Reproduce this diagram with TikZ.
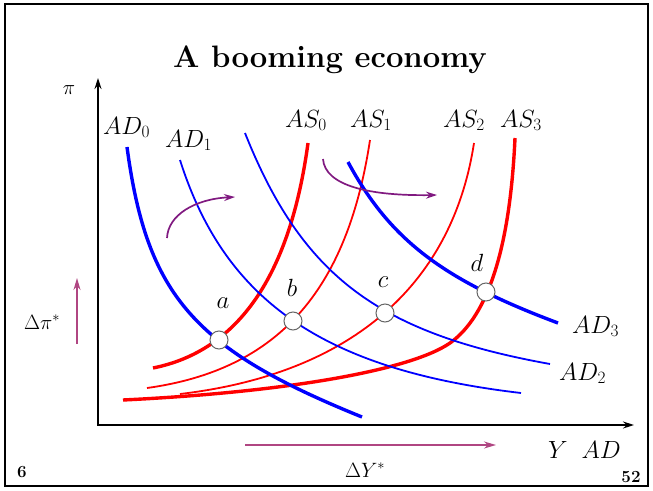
\documentclass[tikz,border=0pt]{standalone}
\usetikzlibrary{arrows.meta}
\definecolor{adblue}{RGB}{0,0,255}
\definecolor{asred}{RGB}{255,0,0}
\definecolor{shiftpurple}{RGB}{128,25,128}
\definecolor{mauve}{RGB}{176,70,130}
\begin{document}
\begin{tikzpicture}[x=1pt,y=-1pt,
  frameline/.style={line width=2.6pt,black},
  axisline/.style={line width=1.4pt,black,{Stealth[length=11pt,width=7pt]}-{Stealth[length=11pt,width=7pt]}},
  adthick/.style={adblue,line width=3.4pt},
  adthin/.style={adblue,line width=1.8pt},
  asthick/.style={asred,line width=3.4pt},
  asthin/.style={asred,line width=1.8pt},
  shiftarrow/.style={shiftpurple,line width=1.7pt,-{Stealth[length=11pt,width=7pt]}},
  deltaarrow/.style={mauve,line width=1.7pt,-{Stealth[length=12pt,width=7pt]}},
  eqpt/.style={circle,minimum size=18pt,inner sep=0pt,fill=white,draw=black!60,line width=1pt},
  curvelabel/.style={inner sep=0pt,anchor=base west,font=\fontsize{24}{28}\selectfont},
  ptlabel/.style={inner sep=0pt,font=\fontsize{24}{28}\selectfont},
  axislabel/.style={inner sep=0pt,font=\fontsize{22}{26}\selectfont},
  pagenum/.style={inner sep=0pt,font=\fontsize{17}{20}\selectfont\bfseries}
]
\useasboundingbox (0,0) rectangle (653,490);
\draw[frameline] (5,4) rectangle (648,486);

% title
\node[inner sep=0pt,font=\fontsize{31}{35}\selectfont\bfseries] (title) at (330,60) {A booming economy};

% axes
\coordinate (O) at (98,425);
\coordinate (ytip) at (98,78);
\coordinate (xtip) at (634,425);
\draw[axisline] (ytip) -- (O) -- (xtip);
\node[axislabel] (pi) at (69,90) {$\pi$};
\node[curvelabel] (YAD) at (548,458) {$Y\;\;AD$};

% AS curves
\draw[asthick] (308,143) .. controls (290,276) and (238,351) .. (153,368);
\draw[asthin] (370,140) .. controls (347,292) and (277,370) .. (147,388);
\draw[asthin] (474,143) .. controls (452,286) and (350,374) .. (180,394);
\draw[asthick] (515,138) .. controls (510,248) and (488,316) .. (450,343)
                         .. controls (411,370) and (288,392) .. (123,400);

% AD curves
\draw[adthick] (127,147) .. controls (147,296) and (194,349) .. (362,417);
\draw[adthin] (180,160) .. controls (225,302) and (325,370) .. (521,393);
\draw[adthin] (245,133) .. controls (302,276) and (378,333) .. (550,364);
\draw[adthick] (348,162) .. controls (390,240) and (443,280) .. (558,323);

% curve labels
\node[curvelabel] (lAD0) at (103,134) {$AD_0$};
\node[curvelabel] (lAD1) at (165,147) {$AD_1$};
\node[curvelabel] (lAS0) at (285,127) {$AS_0$};
\node[curvelabel] (lAS1) at (350,127) {$AS_1$};
\node[curvelabel] (lAS2) at (443,127) {$AS_2$};
\node[curvelabel] (lAS3) at (500,127) {$AS_3$};
\node[curvelabel] (lAD3) at (572,333) {$AD_3$};
\node[curvelabel] (lAD2) at (559,380) {$AD_2$};

% equilibrium points
\node[eqpt] (a) at (219,340) {};
\node[eqpt] (b) at (293,321) {};
\node[eqpt] (c) at (385,313) {};
\node[eqpt] (d) at (486,292) {};
\node[ptlabel] (la) at (223,303) {$a$};
\node[ptlabel] (lb) at (292,288) {$b$};
\node[ptlabel] (lc) at (383,282) {$c$};
\node[ptlabel] (ld) at (477,263) {$d$};

% shift arrows
\coordinate (s1a) at (167,238);
\coordinate (s1b) at (235,197);
\draw[shiftarrow] (s1a) .. controls (168,215) and (195,199) .. (s1b);
\coordinate (s2a) at (323,159);
\coordinate (s2b) at (437,195);
\draw[shiftarrow] (s2a) .. controls (325,186) and (370,196) .. (s2b);

% delta arrows
\coordinate (v0) at (77,344);
\coordinate (v1) at (77,278);
\draw[deltaarrow] (v0) -- (v1);
\node[axislabel] (dpi) at (42,322) {$\Delta\pi^{*}$};
\coordinate (h0) at (245,445);
\coordinate (h1) at (496,445);
\draw[deltaarrow] (h0) -- (h1);
\node[axislabel] (dY) at (365,470) {$\Delta Y^{*}$};

% page numbers
\node[pagenum] (p6) at (22,472) {6};
\node[pagenum] (p52) at (631,477) {52};
\end{tikzpicture}
\end{document}
